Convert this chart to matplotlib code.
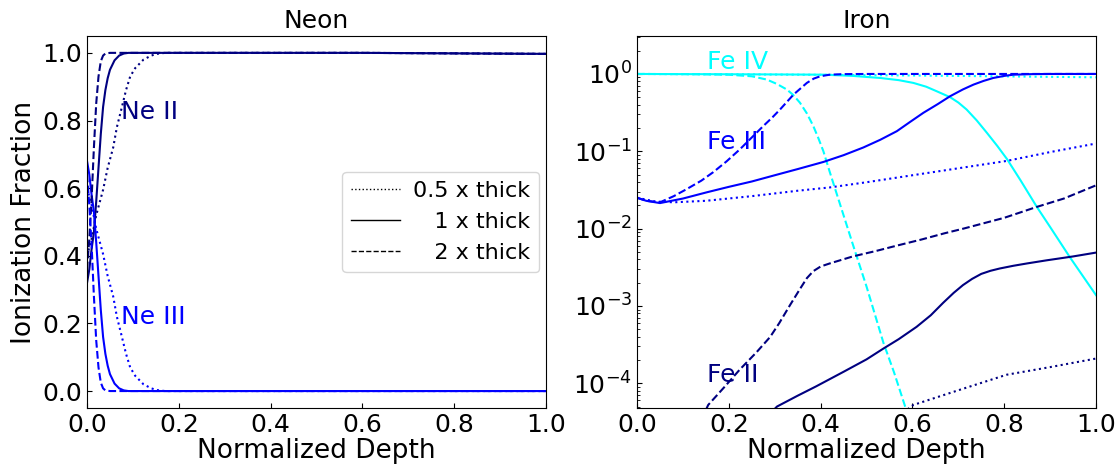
import numpy as np
import matplotlib
matplotlib.use("Agg")
import matplotlib.pyplot as plt
from matplotlib.lines import Line2D

# ---- Neon: ion fractions vs normalized depth (three slab thicknesses) ----
ne_x_half = [0.0, 0.01, 0.02, 0.03, 0.035, 0.045, 0.057, 0.065, 0.076, 0.085,
             0.094, 0.105, 0.123, 0.14, 0.152, 0.17, 0.3, 0.6, 1.0]
ne2_half = [0.40, 0.45, 0.52, 0.57, 0.595, 0.66, 0.72, 0.78, 0.84, 0.89,
            0.93, 0.955, 0.98, 0.992, 0.997, 1.0, 1.0, 1.0, 0.997]
ne3_half = [0.60, 0.55, 0.48, 0.43, 0.405, 0.34, 0.28, 0.22, 0.16, 0.11,
            0.07, 0.045, 0.02, 0.008, 0.003, 0.0, 0.0, 0.0, 0.0]

ne_x_one = [0.0, 0.005, 0.01, 0.015, 0.02, 0.025, 0.03, 0.035, 0.04, 0.045,
            0.05, 0.06, 0.07, 0.08, 0.09, 0.3, 0.6, 1.0]
ne2_one = [0.32, 0.36, 0.42, 0.47, 0.56, 0.66, 0.76, 0.84, 0.89, 0.925,
           0.95, 0.978, 0.992, 0.998, 1.0, 1.0, 1.0, 0.997]
ne3_one = [0.68, 0.64, 0.58, 0.53, 0.44, 0.34, 0.24, 0.16, 0.11, 0.075,
           0.05, 0.022, 0.008, 0.002, 0.0, 0.0, 0.0, 0.0]

ne_x_two = [0.0, 0.005, 0.01, 0.015, 0.02, 0.025, 0.03, 0.035, 0.04, 0.05,
            0.3, 0.6, 1.0]
ne2_two = [0.36, 0.45, 0.57, 0.72, 0.85, 0.93, 0.975, 0.992, 0.998, 1.0,
           1.0, 1.0, 0.997]
ne3_two = [0.64, 0.55, 0.43, 0.28, 0.15, 0.07, 0.025, 0.008, 0.002, 0.0,
           0.0, 0.0, 0.0]

# ---- Iron ----
fe4_x_one = [0.0, 0.1, 0.2, 0.3, 0.406, 0.47, 0.53, 0.57, 0.602, 0.63, 0.653,
             0.682, 0.70, 0.718, 0.74, 0.762, 0.785, 0.806, 0.836, 0.871, 0.9,
             0.943, 1.0]
fe4_one = [1.0, 0.995, 0.991, 0.986, 0.979, 0.944, 0.887, 0.832, 0.766, 0.684,
           0.597, 0.501, 0.427, 0.347, 0.251, 0.174, 0.117, 0.0794, 0.0417,
           0.0191, 0.0105, 0.00427, 0.00138]
fe4_x_two = [0.0, 0.1, 0.15, 0.2, 0.25, 0.283, 0.305, 0.326, 0.34, 0.355,
             0.37, 0.384, 0.395, 0.406, 0.42, 0.435, 0.471, 0.5, 0.537, 0.56,
             0.583, 0.6]
fe4_two = [1.0, 0.995, 0.989, 0.977, 0.933, 0.845, 0.741, 0.631, 0.537, 0.424,
           0.309, 0.212, 0.148, 0.1, 0.0537, 0.0282, 0.00603, 0.00178,
           3.31e-4, 1.38e-4, 5.25e-5, 2.51e-5]
fe4_x_half = [0.0, 0.2, 0.4, 0.6, 0.8, 1.0]
fe4_half = [1.0, 0.99, 0.975, 0.955, 0.93, 0.905]

fe3_x_one = [0.0, 0.02, 0.05, 0.1, 0.152, 0.2, 0.25, 0.3, 0.35, 0.406, 0.45,
             0.493, 0.53, 0.566, 0.595, 0.624, 0.655, 0.682, 0.71, 0.733,
             0.755, 0.776, 0.8, 0.82, 0.86, 0.9, 1.0]
fe3_one = [0.0251, 0.0229, 0.0214, 0.0245, 0.0295, 0.0347, 0.0407, 0.0490,
           0.0589, 0.0728, 0.0891, 0.112, 0.141, 0.182, 0.240, 0.315, 0.407,
           0.515, 0.631, 0.728, 0.813, 0.887, 0.944, 0.979, 0.995, 1.0, 1.0]
fe3_x_two = [0.0, 0.02, 0.05, 0.08, 0.108, 0.14, 0.166, 0.195, 0.224, 0.25,
             0.275, 0.295, 0.3115, 0.341, 0.37, 0.385, 0.399, 0.42, 0.45, 0.5,
             0.6, 0.8, 1.0]
fe3_two = [0.0251, 0.0229, 0.0219, 0.0263, 0.0324, 0.0417, 0.0537, 0.0741,
           0.106, 0.151, 0.212, 0.275, 0.347, 0.542, 0.766, 0.871, 0.933,
           0.979, 0.995, 1.0, 1.0, 1.0, 1.0]
fe3_x_half = [0.0, 0.04, 0.08, 0.15, 0.25, 0.35, 0.42, 0.5, 0.6, 0.7, 0.805,
              0.9, 1.0]
fe3_half = [0.0251, 0.0224, 0.0219, 0.0229, 0.0263, 0.0309, 0.0341, 0.0398,
            0.0490, 0.0603, 0.0750, 0.0977, 0.126]

fe2_x_one = [0.28, 0.305, 0.35, 0.39, 0.45, 0.5, 0.537, 0.57, 0.609, 0.64,
             0.667, 0.69, 0.71, 0.73, 0.75, 0.77, 0.79, 0.82, 0.85, 0.892,
             0.95, 1.0]
fe2_one = [3.55e-5, 5.01e-5, 6.92e-5, 9.12e-5, 1.41e-4, 2.04e-4, 2.82e-4,
           3.72e-4, 5.37e-4, 7.59e-4, 1.10e-3, 1.48e-3, 1.86e-3, 2.24e-3,
           2.60e-3, 2.85e-3, 3.05e-3, 3.31e-3, 3.55e-3, 3.89e-3, 4.37e-3,
           4.90e-3]
fe2_x_two = [0.13, 0.155, 0.19, 0.224, 0.26, 0.29, 0.31, 0.333, 0.355, 0.37,
             0.384, 0.40, 0.42, 0.47, 0.52, 0.566, 0.62, 0.67, 0.711, 0.8,
             0.871, 0.93, 1.0]
fe2_two = [2.51e-5, 5.25e-5, 8.91e-5, 1.51e-4, 2.51e-4, 3.98e-4, 6.03e-4,
           1.02e-3, 1.66e-3, 2.29e-3, 2.82e-3, 3.24e-3, 3.55e-3, 4.37e-3,
           5.13e-3, 6.03e-3, 7.24e-3, 8.71e-3, 1.00e-2, 1.38e-2, 1.91e-2,
           2.45e-2, 3.63e-2]
fe2_x_half = [0.58, 0.602, 0.7, 0.805, 0.9, 1.0]
fe2_half = [4.17e-5, 5.25e-5, 8.13e-5, 1.29e-4, 1.62e-4, 2.09e-4]

thick_labels = ["0.5 x thick", "   1 x thick", "   2 x thick"]
styles = [":", "-", "--"]


def style_axes(ax):
    ax.tick_params(direction="in", labelsize=18, which="both")
    ax.set_xlim(0, 1)
    ax.set_xlabel("Normalized Depth", fontsize=19, labelpad=1)


fig = plt.figure(figsize=(11.2, 4.7), dpi=100)
ax0 = fig.add_axes([0.0777, 0.132, 0.4098, 0.7915])
ax1 = fig.add_axes([0.5688, 0.132, 0.4098, 0.7915])

# Neon panel
for xs, y2, y3, ls in [(ne_x_half, ne2_half, ne3_half, ":"),
                       (ne_x_one, ne2_one, ne3_one, "-"),
                       (ne_x_two, ne2_two, ne3_two, "--")]:
    ax0.plot(xs, y2, color="navy", ls=ls, lw=1.5)
    ax0.plot(xs, y3, color="blue", ls=ls, lw=1.5)

ax0.set_ylim(-0.05, 1.05)
ax0.set_xticks([0.0, 0.2, 0.4, 0.6, 0.8, 1.0])
ax0.set_yticks([0.0, 0.2, 0.4, 0.6, 0.8, 1.0])
style_axes(ax0)
ax0.set_ylabel("Ionization Fraction", fontsize=19)
ax0.set_title("Neon", fontsize=18)
ax0.text(0.074, 0.825, "Ne II", color="navy", fontsize=18, va="center")
ax0.text(0.074, 0.22, "Ne III", color="blue", fontsize=18, va="center")

handles = [Line2D([], [], color="black", ls=ls, lw=1) for ls in styles]
ax0.legend(handles, thick_labels, loc="center right", fontsize=16,
           handlelength=2.2, borderaxespad=0.3, handletextpad=0.6)

# Iron panel
ax1.plot(fe4_x_half, fe4_half, color="cyan", ls=":", lw=1.5)
ax1.plot(fe4_x_one, fe4_one, color="cyan", ls="-", lw=1.5)
ax1.plot(fe4_x_two, fe4_two, color="cyan", ls="--", lw=1.5)
ax1.plot(fe3_x_half, fe3_half, color="blue", ls=":", lw=1.5)
ax1.plot(fe3_x_one, fe3_one, color="blue", ls="-", lw=1.5)
ax1.plot(fe3_x_two, fe3_two, color="blue", ls="--", lw=1.5)
ax1.plot(fe2_x_half, fe2_half, color="navy", ls=":", lw=1.5)
ax1.plot(fe2_x_one, fe2_one, color="navy", ls="-", lw=1.5)
ax1.plot(fe2_x_two, fe2_two, color="navy", ls="--", lw=1.5)

ax1.set_yscale("log")
ax1.set_ylim(4.8e-5, 3.1)
ax1.set_xticks([0.0, 0.2, 0.4, 0.6, 0.8, 1.0])
style_axes(ax1)
ax1.set_title("Iron", fontsize=18)
ax1.text(0.153, 1.44, "Fe IV", color="cyan", fontsize=18, va="center")
ax1.text(0.153, 0.13, "Fe III", color="blue", fontsize=18, va="center")
ax1.text(0.153, 1.27e-4, "Fe II", color="navy", fontsize=18, va="center")

fig.savefig("out.png", dpi=100)
